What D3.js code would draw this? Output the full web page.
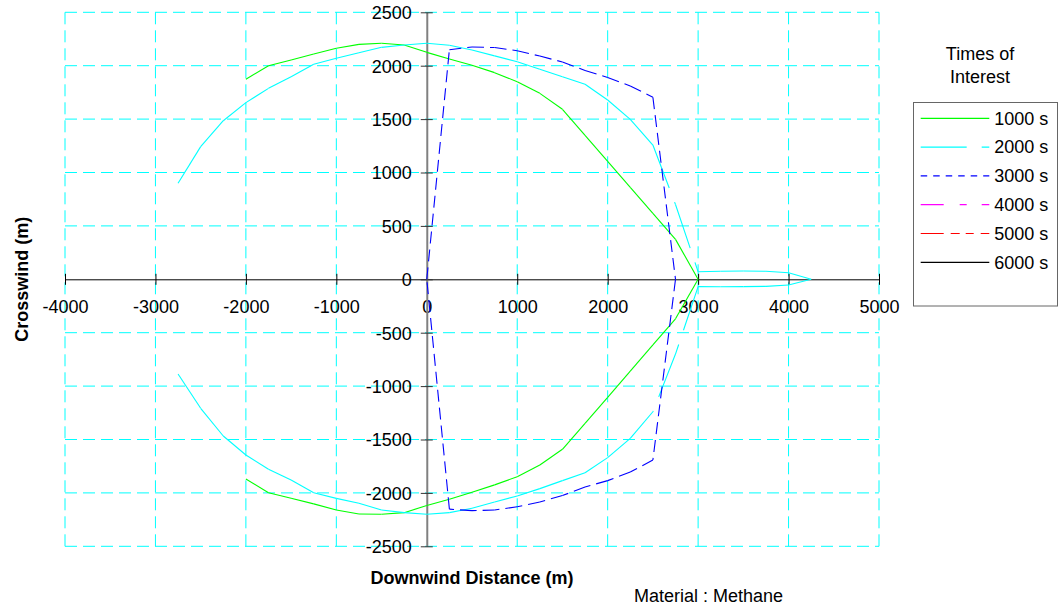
<!DOCTYPE html>
<html>
<head>
<meta charset="utf-8">
<script src="https://cdn.jsdelivr.net/npm/d3@7"></script>
<style>
  body { margin: 0; background: #fff; }
  text { font-family: "Liberation Sans", Arial, sans-serif; }
</style>
</head>
<body>
<div id="chart"></div>
<script>
var svgWidth = 1063;
var svgHeight = 608;

// Axis ticks
var xTicks = [-4000, -3000, -2000, -1000, 0, 1000, 2000, 3000, 4000, 5000];
var yTicks = [-2500, -2000, -1500, -1000, -500, 0, 500, 1000, 1500, 2000, 2500];

// Legend entries
var times = ["1000 s", "2000 s", "3000 s", "4000 s", "5000 s", "6000 s"];

// 1000 s footprint (downwind, crosswind), in path order
var t1000Down = [-2000, -1750, -1500, -1250, -1000, -750, -500, -250, 0, 250, 500, 750, 1000, 1250, 1500, 1750, 2000, 2250, 2500, 2750, 3000,
    2750, 2500, 2250, 2000, 1750, 1500, 1250, 1000, 750, 500, 250, 0, -250, -500, -750, -1000, -1250, -1500, -1750, -2000];
var t1000Cross = [1873, 2000, 2054, 2110, 2163, 2200, 2210, 2194, 2125, 2062, 2005, 1935, 1850, 1741, 1592, 1348, 1105, 861, 618, 374, 0,
    -370, -615, -860, -1105, -1350, -1592, -1739, -1848, -1925, -1994, -2060, -2118, -2185, -2200, -2197, -2160, -2103, -2050, -1998, -1870];

// 2000 s footprint
var t2000Down = [-2750, -2500, -2250, -2000, -1750, -1500, -1250, -1000, -750, -500, -250, 0, 250, 500, 750, 1000, 1250, 1500, 1750, 2000, 2250, 2500, 2750, 3000,
    3250, 3500, 3750, 4000, 4250, 4000, 3750, 3500, 3250, 3000,
    2750, 2500, 2250, 2000, 1750, 1500, 1250, 1000, 750, 500, 250, 0, -250, -500, -750, -1000, -1250, -1500, -1750, -2000, -2250, -2500, -2750];
var t2000Cross = [899, 1242, 1485, 1654, 1788, 1897, 2013, 2069, 2122, 2172, 2194, 2210, 2192, 2147, 2092, 2037, 1966, 1896, 1826, 1679, 1498, 1257, 700, 71,
    76, 78, 75, 62, 0, -53, -66, -69, -70, -69,
    -700, -1240, -1489, -1670, -1811, -1885, -1960, -2029, -2085, -2144, -2185, -2200, -2185, -2160, -2097, -2051, -1998, -1879, -1779, -1645, -1467, -1208, -887];

// 3000 s footprint
var t3000Down = [0, 250, 500, 750, 1000, 1250, 1500, 1750, 2000, 2250, 2500, 2750,
    2500, 2250, 2000, 1750, 1500, 1250, 1000, 750, 500, 250, 0];
var t3000Cross = [0, 2150, 2175, 2170, 2140, 2090, 2035, 1955, 1890, 1810, 1705, 0,
    -1692, -1805, -1885, -1945, -2025, -2085, -2130, -2160, -2166, -2152, 0];

// 4000 s, 5000 s, 6000 s have no footprint drawn
var t4000Down = [], t4000Cross = [];
var t5000Down = [], t5000Cross = [];
var t6000Down = [], t6000Cross = [];

var series = [
    { name: times[0], down: t1000Down, cross: t1000Cross, color: "#00ff00", dash: null, legendDash: null },
    { name: times[1], down: t2000Down, cross: t2000Cross, color: "#00ffff", dash: "46,15", legendDash: "46,15" },
    { name: times[2], down: t3000Down, cross: t3000Cross, color: "#0000ff", dash: "12,6", legendDash: "6.5,6" },
    { name: times[3], down: t4000Down, cross: t4000Cross, color: "#ff00ff", dash: "23,16,7,15", legendDash: "23,16,7,15" },
    { name: times[4], down: t5000Down, cross: t5000Cross, color: "#ff0000", dash: "23,7,8,7", legendDash: "23,7,9,6,8,7" },
    { name: times[5], down: t6000Down, cross: t6000Cross, color: "#000000", dash: null, legendDash: null }
];

var plot = { left: 65, right: 879, top: 12.3, bottom: 546.3 };
var fmt = d => String(d);

var svg = d3.select("#chart")
    .append("svg")
    .attr("width", svgWidth)
    .attr("height", svgHeight);

var xScale = d3.scaleLinear().domain([-4000, 5000]).range([plot.left, plot.right]);
var yScale = d3.scaleLinear().domain([-2500, 2500]).range([plot.bottom, plot.top]);

// Grid (dashed cyan)
var grid = svg.append("g");
grid.selectAll(".vgrid")
    .data(xTicks.filter(d => d !== 0))
    .join("line")
    .attr("x1", d => xScale(d)).attr("x2", d => xScale(d))
    .attr("y1", plot.top).attr("y2", plot.bottom)
    .attr("stroke", "#00ffff").attr("stroke-dasharray", "12,6");
grid.selectAll(".hgrid")
    .data(yTicks.filter(d => d !== 0))
    .join("line")
    .attr("x1", plot.left).attr("x2", plot.right)
    .attr("y1", d => yScale(d)).attr("y2", d => yScale(d))
    .attr("stroke", "#00ffff").attr("stroke-dasharray", "12,6");

// X axis through y = 0
var xAxis = d3.axisBottom(xScale).tickValues(xTicks).tickFormat(fmt).tickSizeOuter(0).tickSizeInner(6);
var xg = svg.append("g")
    .attr("transform", `translate(0, ${yScale(0)})`)
    .call(xAxis);
xg.select(".domain").attr("stroke", "#000");
xg.selectAll(".tick line").attr("y1", -5.5).attr("y2", 5.5).attr("stroke", "#000");
xg.selectAll(".tick text")
    .attr("y", 33.4).attr("dy", 0)
    .attr("fill", "#000")
    .style("font-size", "18px")
    .style("font-family", "'Liberation Sans', Arial, sans-serif");

// Y axis through x = 0
var yAxis = d3.axisLeft(yScale).tickValues(yTicks).tickFormat(fmt).tickSizeOuter(0).tickSizeInner(6);
var yg = svg.append("g")
    .attr("transform", `translate(${xScale(0)}, 0)`)
    .call(yAxis);
yg.select(".domain").attr("stroke", "#808080").attr("stroke-width", 2);
yg.selectAll(".tick line").attr("x1", -6).attr("x2", 6).attr("stroke", "#333");
yg.selectAll(".tick text")
    .attr("x", -15).attr("dy", "0.35em")
    .attr("fill", "#000")
    .style("font-size", "18px")
    .style("font-family", "'Liberation Sans', Arial, sans-serif");

// Footprints: each segment drawn on its own so dash patterns restart at every vertex
var lines = svg.append("g");
series.forEach(s => {
    var pts = s.down.map((d, i) => [d, s.cross[i]]);
    lines.append("g")
        .selectAll("line")
        .data(d3.pairs(pts))
        .join("line")
        .attr("x1", d => xScale(d[0][0]))
        .attr("y1", d => yScale(d[0][1]))
        .attr("x2", d => xScale(d[1][0]))
        .attr("y2", d => yScale(d[1][1]))
        .attr("stroke", s.color)
        .attr("stroke-width", 1.1)
        .attr("stroke-dasharray", s.dash);
});

// Axis titles
svg.append("text")
    .attr("transform", `translate(28, ${(plot.top + plot.bottom) / 2}) rotate(-90)`)
    .attr("text-anchor", "middle")
    .style("font-size", "18px")
    .style("font-weight", "bold")
    .text("Crosswind (m)");
svg.append("text")
    .attr("x", (plot.left + plot.right) / 2)
    .attr("y", 584)
    .attr("text-anchor", "middle")
    .style("font-size", "18px")
    .style("font-weight", "bold")
    .text("Downwind Distance (m)");
svg.append("text")
    .attr("x", 634)
    .attr("y", 601.5)
    .style("font-size", "18px")
    .text("Material : Methane");

// Legend
svg.append("text")
    .attr("x", 980).attr("y", 59.5)
    .attr("text-anchor", "middle")
    .style("font-size", "18px")
    .text("Times of");
svg.append("text")
    .attr("x", 980).attr("y", 83)
    .attr("text-anchor", "middle")
    .style("font-size", "18px")
    .text("Interest");

svg.append("rect")
    .attr("x", 913.5).attr("y", 102.5)
    .attr("width", 144).attr("height", 203.5)
    .attr("fill", "#fff")
    .attr("stroke", "#666");

var rowY = d3.scaleLinear().domain([0, 5]).range([118.3, 262.3]);
var legendRows = svg.append("g")
    .selectAll("g")
    .data(series)
    .join("g")
    .attr("transform", (d, i) => `translate(0, ${rowY(i)})`);
legendRows.append("line")
    .attr("x1", 920.7).attr("x2", 989.3)
    .attr("stroke", d => d.color)
    .attr("stroke-width", 1.2)
    .attr("stroke-dasharray", d => d.legendDash);
legendRows.append("text")
    .attr("x", 994.3)
    .attr("dy", "0.35em")
    .style("font-size", "18px")
    .text(d => d.name);
</script>
</body>
</html>
